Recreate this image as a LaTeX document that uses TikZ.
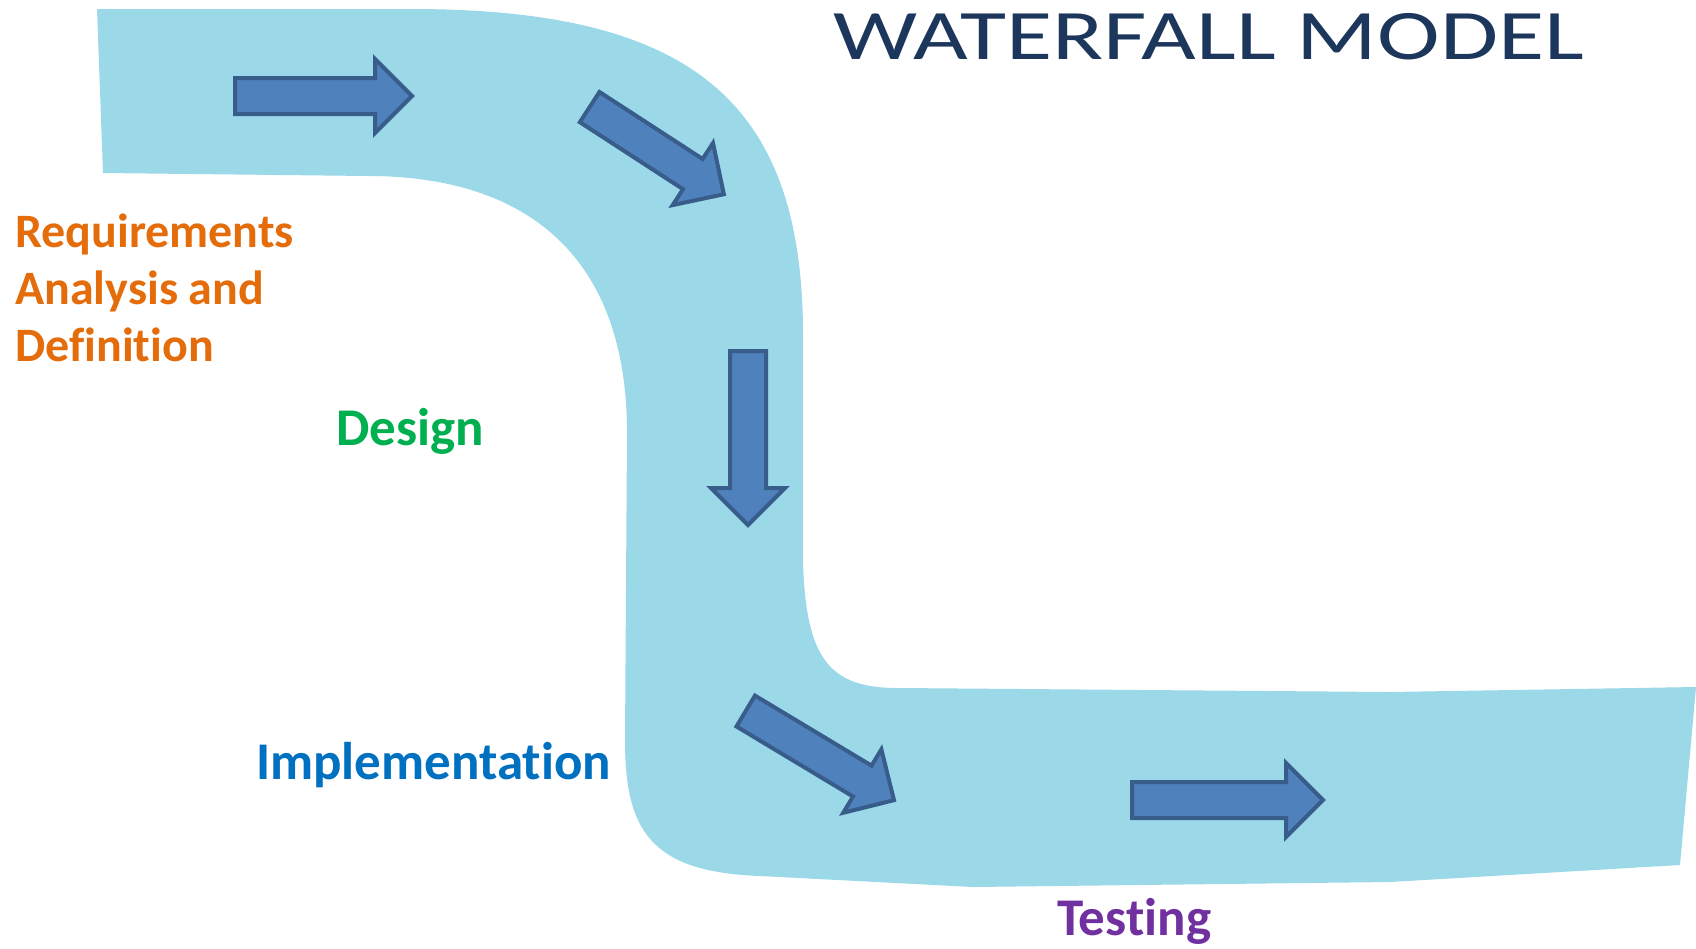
\documentclass[tikz,border=0pt]{standalone}
\usepackage{fontspec}
\setmainfont{Carlito}[RawFeature={-liga;-calt;-clig}]
\usetikzlibrary{shapes.arrows}
\definecolor{river}{RGB}{155,217,233}
\definecolor{arrowfill}{RGB}{79,129,189}
\definecolor{arrowline}{RGB}{56,93,138}
\definecolor{reqorange}{RGB}{228,108,10}
\definecolor{desgreen}{RGB}{0,176,80}
\definecolor{impblue}{RGB}{0,112,192}
\definecolor{testpurple}{RGB}{112,48,160}
\definecolor{titleblue}{RGB}{28,54,92}
\newcommand\flow[4]{\node[flow,rotate=#3,minimum height=#4] (#1) at (#2) {};}
\newcommand\stage[4]{\node[stage,text=#3] (#1) at (#2) {#4};}

\begin{document}
\begin{tikzpicture}[x=1pt,y=-1pt]
\tikzstyle{flow}=[single arrow,draw=arrowline,fill=arrowfill,line width=4pt,inner xsep=0pt,inner ysep=16pt,single arrow head extend=19pt,anchor=tail]
\tikzstyle{stage}=[anchor=base west,inner sep=0pt,align=left,font=\bfseries\fontsize{53}{61}\selectfont]
\useasboundingbox (0,0) rectangle (1696,948);

%% river
\fill[river] (97,9) -- (411,9) .. controls (690,9) and (803,100) .. (803,335)
  -- (803,562) .. controls (806,660) and (830,688) .. (898,688)
  -- (1390,692) -- (1696,687) -- (1680,865) -- (1390,882) -- (973,887) -- (760,876)
  .. controls (650,872) and (625,830) .. (625,740)
  -- (627,433) .. controls (627,250) and (520,176) .. (368,176)
  -- (103,173) -- cycle;

%% arrows
\flow{a1}{233,96}{0}{177}
\flow{a2}{588,106}{-33}{160}
\flow{a3}{748,349}{-90}{174}
\flow{a4}{744,710}{-31}{173}
\flow{a5}{1130,800}{0}{191}

%% labels
\node[stage,text=reqorange,font=\bfseries\fontsize{48}{57}\selectfont] (req) at (15,361) {Requirements\\Analysis and\\Definition};
\stage{design}{336,445}{desgreen}{Design}
\stage{impl}{256,779}{impblue}{Implementation}
\stage{test}{1057,935}{testpurple}{Testing}

\node[anchor=base west,inner sep=0pt,text=titleblue,font=\fontsize{71}{80}\selectfont] (title) at (833,59) {\scalebox{1.33}[1]{WATERFALL MODEL}};
\end{tikzpicture}
\end{document}
